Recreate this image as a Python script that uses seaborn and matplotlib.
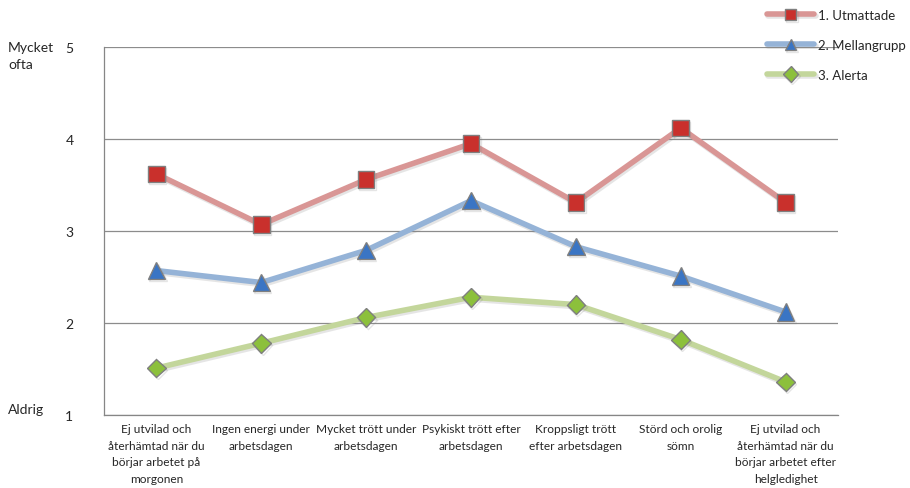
import pandas as pd
import numpy as np
import seaborn as sns
import matplotlib
matplotlib.use('Agg')
import matplotlib.pyplot as plt
import matplotlib.patheffects as pe

categories = ['Ej utvilad och\nåterhämtad när du\nbörjar arbetet på\nmorgonen',
              'Ingen energi under\narbetsdagen',
              'Mycket trött under\narbetsdagen',
              'Psykiskt trött efter\narbetsdagen',
              'Kroppsligt trött\nefter arbetsdagen',
              'Störd och orolig\nsömn',
              'Ej utvilad och\nåterhämtad när du\nbörjar arbetet efter\nhelgledighet']
groups = ['1. Utmattade', '2. Mellangrupp', '3. Alerta']
utmattade = [3.62, 3.07, 3.56, 3.95, 3.31, 4.12, 3.31]
mellangrupp = [2.57, 2.44, 2.79, 3.33, 2.83, 2.51, 2.12]
alerta = [1.51, 1.78, 2.06, 2.28, 2.20, 1.82, 1.36]

df = pd.DataFrame({
    'pos': list(range(7)) * 3,
    'value': utmattade + mellangrupp + alerta,
    'group': [groups[0]] * 7 + [groups[1]] * 7 + [groups[2]] * 7,
})

sns.set_style('white')
plt.rcParams['font.family'] = ['Lato', 'DejaVu Sans']

line_colors = ['#d99695', '#95b3d7', '#c3d69b']
marker_colors = ['#c9302c', '#3a75c4', '#8cc03c']
markers = ['s', '^', 'D']
msizes = [12, 12.5, 9.5]

fig = plt.figure(figsize=(9.1, 4.89), dpi=100)
ax = fig.add_axes([0.1143, 0.1493, 0.8066, 0.7525])

shadow = [pe.SimpleLineShadow(offset=(1, -1.5), shadow_color='gray', alpha=0.2), pe.Normal()]
for i, g in enumerate(groups):
    sub = df[df['group'] == g]
    sns.lineplot(data=sub, x='pos', y='value', ax=ax, color=line_colors[i], linewidth=4,
                 marker=markers[i], markersize=msizes[i], markerfacecolor=marker_colors[i],
                 markeredgecolor='#7f7f7f', markeredgewidth=1, label=g,
                 path_effects=shadow, zorder=3 + i)

ax.set_xlim(-0.5, 6.5)
ax.set_ylim(1, 5)
ax.set_yticks([1, 2, 3, 4, 5])
ax.set_yticks([1.5, 2.5, 3.5, 4.5], minor=True)
ax.set_yticklabels(['1', '2', '3', '4', '5'], fontsize=10)
ax.set_xticks(np.arange(-0.5, 7, 1))
ax.set_xticklabels([])
ax.set_xticks(range(7), minor=True)
ax.set_xticklabels(categories, minor=True, fontsize=8.6, linespacing=1.62, va='top')
ax.tick_params(axis='x', which='minor', length=0, pad=6)
ax.tick_params(axis='x', which='major', length=4, color='#868686', direction='out')
ax.tick_params(axis='y', which='both', length=4, color='#868686', direction='out', pad=18)
ax.grid(axis='y', which='major', color='#8c8c8c', linewidth=0.9)
ax.set_xlabel('')
ax.set_ylabel('')
for s in ['top', 'right']:
    ax.spines[s].set_visible(False)
for s in ['left', 'bottom']:
    ax.spines[s].set_color('#868686')
    ax.spines[s].set_linewidth(0.9)

fig.text(8 / 910, 1 - 42 / 489, 'Mycket\nofta', fontsize=10, va='top', ha='left', linespacing=1.5)
fig.text(8 / 910, 1 - 410 / 489, 'Aldrig', fontsize=10, va='center', ha='left')

ax.legend_.remove()
handles, labels = ax.get_legend_handles_labels()
leg = fig.legend(handles, labels, loc='upper left', bbox_to_anchor=(755 / 910, 1 + 2 / 489),
                 frameon=False, fontsize=9.5, handlelength=3.6, labelspacing=1.35, handletextpad=0.3)
for h in leg.legend_handles:
    h.set_markersize(8)

fig.savefig('out.png', dpi=100)
